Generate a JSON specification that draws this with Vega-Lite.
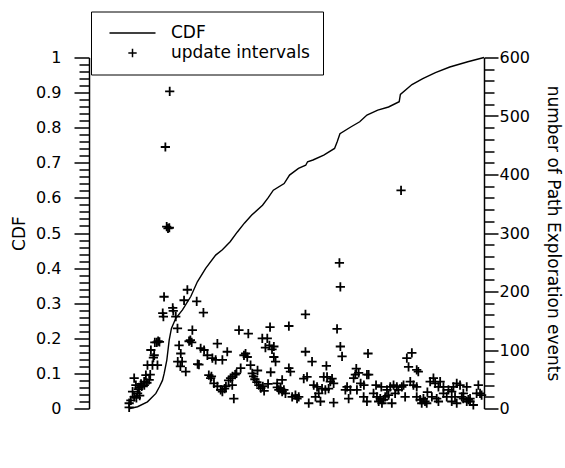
{
  "$schema": "https://vega.github.io/schema/vega-lite/v6.json",
  "width": 395,
  "height": 351,
  "autosize": "none",
  "padding": {"left": 89, "top": 57.5, "right": 81, "bottom": 59.5},
  "background": "white",
  "config": {
    "view": {"stroke": null},
    "font": "DejaVu Sans",
    "axis": {
      "domainColor": "black", "domainWidth": 1.5, "tickWidth": 1.5,
      "labelColor": "black", "titleColor": "black", "labelFont": "DejaVu Sans", "titleFont": "DejaVu Sans",
      "labelFontSize": 16, "titleFontSize": 17, "titleFontWeight": "normal", "gridOpacity": 0
    }
  },
  "datasets": {
    "cdf": [
      {"s": 31, "cdf": 0}, {"s": 36.9, "cdf": 0.005}, {"s": 44.4, "cdf": 0.019}, {"s": 50.8, "cdf": 0.043},
      {"s": 53.5, "cdf": 0.062}, {"s": 55.8, "cdf": 0.08}, {"s": 57.1, "cdf": 0.1}, {"s": 59.1, "cdf": 0.138},
      {"s": 60.9, "cdf": 0.195}, {"s": 62.6, "cdf": 0.228}, {"s": 65.9, "cdf": 0.257}, {"s": 71, "cdf": 0.281},
      {"s": 77.3, "cdf": 0.319}, {"s": 82.3, "cdf": 0.361}, {"s": 88.6, "cdf": 0.399}, {"s": 96.2, "cdf": 0.437},
      {"s": 101.3, "cdf": 0.452}, {"s": 107.2, "cdf": 0.475}, {"s": 112.7, "cdf": 0.503}, {"s": 118, "cdf": 0.528},
      {"s": 123.6, "cdf": 0.551}, {"s": 131.8, "cdf": 0.579}, {"s": 136, "cdf": 0.6}, {"s": 140, "cdf": 0.622},
      {"s": 148.2, "cdf": 0.641}, {"s": 152.3, "cdf": 0.665}, {"s": 159.1, "cdf": 0.684}, {"s": 164.6, "cdf": 0.693},
      {"s": 166, "cdf": 0.703}, {"s": 170.1, "cdf": 0.708}, {"s": 178.3, "cdf": 0.722}, {"s": 186.5, "cdf": 0.741},
      {"s": 188.5, "cdf": 0.76}, {"s": 190.6, "cdf": 0.783}, {"s": 198.8, "cdf": 0.802}, {"s": 205.6, "cdf": 0.817},
      {"s": 211.1, "cdf": 0.836}, {"s": 219.3, "cdf": 0.85}, {"s": 227.5, "cdf": 0.859}, {"s": 235.6, "cdf": 0.874},
      {"s": 236.5, "cdf": 0.895}, {"s": 245.3, "cdf": 0.923}, {"s": 253.5, "cdf": 0.94}, {"s": 263.1, "cdf": 0.957},
      {"s": 274, "cdf": 0.973}, {"s": 287.7, "cdf": 0.988}, {"s": 300, "cdf": 1.0}
    ],
    "pts": [
      {"s": 30.5, "n": 2}, {"s": 30.5, "n": 9}, {"s": 31.8, "n": 14}, {"s": 34.3, "n": 20}, {"s": 33.1, "n": 29},
      {"s": 36.9, "n": 26}, {"s": 35.6, "n": 40}, {"s": 38, "n": 36}, {"s": 39.5, "n": 42}, {"s": 37.5, "n": 33},
      {"s": 34.3, "n": 52}, {"s": 41.9, "n": 46}, {"s": 43.2, "n": 57}, {"s": 45.7, "n": 49}, {"s": 44, "n": 44},
      {"s": 42, "n": 40}, {"s": 44.4, "n": 74}, {"s": 48.2, "n": 74}, {"s": 52, "n": 74}, {"s": 48.9, "n": 87},
      {"s": 49.5, "n": 91}, {"s": 47, "n": 100}, {"s": 50, "n": 113}, {"s": 51.5, "n": 113}, {"s": 52.5, "n": 115},
      {"s": 53.5, "n": 114}, {"s": 40, "n": 38}, {"s": 46.5, "n": 58}, {"s": 36, "n": 18}, {"s": 38.5, "n": 22},
      {"s": 57, "n": 191}, {"s": 56, "n": 163}, {"s": 56.5, "n": 157}, {"s": 58, "n": 447}, {"s": 61.3, "n": 542},
      {"s": 59, "n": 311}, {"s": 60, "n": 308}, {"s": 61, "n": 309}, {"s": 63.6, "n": 172}, {"s": 64, "n": 167},
      {"s": 65.9, "n": 157}, {"s": 67.2, "n": 137}, {"s": 72.2, "n": 185}, {"s": 74.7, "n": 203}, {"s": 81.8, "n": 183},
      {"s": 86.9, "n": 164}, {"s": 78.5, "n": 134}, {"s": 68.4, "n": 108}, {"s": 69.7, "n": 94}, {"s": 67.4, "n": 80},
      {"s": 70.7, "n": 80}, {"s": 69.4, "n": 72}, {"s": 73.5, "n": 63}, {"s": 76, "n": 115}, {"s": 77, "n": 117},
      {"s": 78, "n": 113}, {"s": 82.5, "n": 76}, {"s": 84.8, "n": 103}, {"s": 87.4, "n": 100}, {"s": 89.9, "n": 91},
      {"s": 83.5, "n": 75}, {"s": 93.7, "n": 86}, {"s": 96.2, "n": 83}, {"s": 97.5, "n": 111}, {"s": 101.3, "n": 83},
      {"s": 105, "n": 97}, {"s": 91, "n": 57}, {"s": 92.4, "n": 52}, {"s": 94.9, "n": 43}, {"s": 97.5, "n": 38},
      {"s": 100, "n": 32}, {"s": 101.3, "n": 29}, {"s": 103, "n": 34}, {"s": 104, "n": 38}, {"s": 110, "n": 17},
      {"s": 108.8, "n": 40}, {"s": 106, "n": 48}, {"s": 107.5, "n": 52}, {"s": 109, "n": 55}, {"s": 111, "n": 58},
      {"s": 112, "n": 60}, {"s": 93, "n": 55}, {"s": 113.9, "n": 134}, {"s": 121, "n": 128}, {"s": 115.2, "n": 69},
      {"s": 117.7, "n": 91}, {"s": 118.9, "n": 94}, {"s": 120.2, "n": 88}, {"s": 122.7, "n": 74}, {"s": 125, "n": 55},
      {"s": 126, "n": 50}, {"s": 127.5, "n": 45}, {"s": 129, "n": 40}, {"s": 130.5, "n": 35}, {"s": 132, "n": 38},
      {"s": 133, "n": 30}, {"s": 131.6, "n": 120}, {"s": 135.4, "n": 120}, {"s": 137.5, "n": 139}, {"s": 134, "n": 104},
      {"s": 137, "n": 108}, {"s": 139, "n": 101}, {"s": 140.4, "n": 88}, {"s": 141.7, "n": 80}, {"s": 143, "n": 36},
      {"s": 144.2, "n": 32}, {"s": 138, "n": 62}, {"s": 128, "n": 65}, {"s": 124, "n": 60}, {"s": 136, "n": 42},
      {"s": 140.4, "n": 106}, {"s": 151.8, "n": 141}, {"s": 151.8, "n": 69}, {"s": 153, "n": 63}, {"s": 142.9, "n": 43},
      {"s": 146.7, "n": 49}, {"s": 145.5, "n": 34}, {"s": 148, "n": 32}, {"s": 149.2, "n": 26}, {"s": 146.7, "n": 29},
      {"s": 154.3, "n": 20}, {"s": 158, "n": 17}, {"s": 156.8, "n": 23}, {"s": 159.3, "n": 20}, {"s": 164.4, "n": 161},
      {"s": 164.4, "n": 97}, {"s": 169.4, "n": 80}, {"s": 163.1, "n": 51}, {"s": 165.6, "n": 54}, {"s": 166.9, "n": 9},
      {"s": 170.7, "n": 40}, {"s": 173.2, "n": 37}, {"s": 174.5, "n": 26}, {"s": 172, "n": 20}, {"s": 175.8, "n": 12},
      {"s": 177, "n": 34}, {"s": 179.5, "n": 32}, {"s": 182, "n": 34}, {"s": 180.3, "n": 73}, {"s": 178.3, "n": 54},
      {"s": 180.8, "n": 54}, {"s": 184.6, "n": 51}, {"s": 183.3, "n": 46}, {"s": 185.8, "n": 43}, {"s": 185.8, "n": 10},
      {"s": 190.2, "n": 249}, {"s": 190.9, "n": 208}, {"s": 188.4, "n": 136}, {"s": 190.9, "n": 106}, {"s": 192.2, "n": 89},
      {"s": 194.7, "n": 32}, {"s": 196, "n": 37}, {"s": 197.2, "n": 17}, {"s": 198.5, "n": 32}, {"s": 203, "n": 68},
      {"s": 204.8, "n": 61}, {"s": 201, "n": 52}, {"s": 202.3, "n": 58}, {"s": 211.9, "n": 94}, {"s": 211.1, "n": 58},
      {"s": 212.4, "n": 58}, {"s": 206.3, "n": 43}, {"s": 208.8, "n": 40}, {"s": 203.5, "n": 32}, {"s": 208.6, "n": 20},
      {"s": 211.1, "n": 12}, {"s": 216.1, "n": 26}, {"s": 218.7, "n": 20}, {"s": 221.2, "n": 17}, {"s": 220, "n": 12},
      {"s": 222.5, "n": 9}, {"s": 223.7, "n": 15}, {"s": 225, "n": 20}, {"s": 227.5, "n": 23}, {"s": 226.3, "n": 32},
      {"s": 228.8, "n": 37}, {"s": 231.3, "n": 40}, {"s": 232.5, "n": 26}, {"s": 230, "n": 9}, {"s": 233.8, "n": 37},
      {"s": 235, "n": 32}, {"s": 237.6, "n": 37}, {"s": 238.9, "n": 40}, {"s": 240.1, "n": 20}, {"s": 246.4, "n": 40},
      {"s": 248.9, "n": 37}, {"s": 248.9, "n": 20}, {"s": 251.5, "n": 15}, {"s": 252.7, "n": 9}, {"s": 255.2, "n": 12},
      {"s": 256.5, "n": 9}, {"s": 254, "n": 17}, {"s": 241.4, "n": 86}, {"s": 245.2, "n": 95}, {"s": 242.7, "n": 71},
      {"s": 248.9, "n": 66}, {"s": 250.1, "n": 63}, {"s": 237, "n": 373}, {"s": 261.6, "n": 52}, {"s": 259.1, "n": 46},
      {"s": 262.9, "n": 43}, {"s": 265.4, "n": 37}, {"s": 266.7, "n": 46}, {"s": 269.2, "n": 37}, {"s": 281.8, "n": 40},
      {"s": 286.9, "n": 37}, {"s": 295.7, "n": 40}, {"s": 294.4, "n": 26}, {"s": 297, "n": 26}, {"s": 298.2, "n": 23},
      {"s": 291.9, "n": 6}, {"s": 289.4, "n": 12}, {"s": 278, "n": 20}, {"s": 275.5, "n": 12}, {"s": 279.3, "n": 9},
      {"s": 283.1, "n": 20}, {"s": 284.3, "n": 17}, {"s": 286.9, "n": 12}, {"s": 288.1, "n": 15}, {"s": 289.4, "n": 17},
      {"s": 284.3, "n": 26}, {"s": 269.2, "n": 26}, {"s": 271.7, "n": 20}, {"s": 273, "n": 32}, {"s": 275.5, "n": 29},
      {"s": 276.8, "n": 37}, {"s": 279.3, "n": 43}, {"s": 264.1, "n": 17}, {"s": 265.4, "n": 12}, {"s": 260.4, "n": 20},
      {"s": 218, "n": 40}, {"s": 222, "n": 37}, {"s": 244, "n": 46}, {"s": 257, "n": 28}
    ]
  },
  "layer": [
    {
      "data": {"name": "cdf"},
      "mark": {"type": "line", "color": "black", "strokeWidth": 1.4},
      "encoding": {
        "x": {"field": "s", "type": "quantitative",
          "scale": {"domain": [0, 300], "nice": false, "zero": false},
          "axis": {"orient": "bottom", "labelOverlap": false, "labelFlush": false,
            "values": [0, 10, 20, 30, 40, 50, 60, 70, 80, 90, 100, 110, 120, 130, 140, 150, 160, 170, 180, 190, 200, 210, 220, 230, 240, 250, 260, 270, 280, 290, 300],
            "labelExpr": "datum.value % 50 === 0 ? datum.label : ''",
            "tickColor": "black",
            "tickSize": {"condition": {"test": "datum.value % 50 === 0", "value": 13}, "value": 8},
            "labelPadding": 4,
            "title": "interval times in seconds", "titlePadding": 8}},
        "y": {"field": "cdf", "type": "quantitative",
          "scale": {"domain": [0, 1], "nice": false, "zero": false},
          "axis": {"orient": "left", "labelOverlap": false, "labelFlush": false,
            "values": [0, 0.02, 0.04, 0.06, 0.08, 0.1, 0.12, 0.14, 0.16, 0.18, 0.2, 0.22, 0.24, 0.26, 0.28, 0.3, 0.32, 0.34, 0.36, 0.38, 0.4, 0.42, 0.44, 0.46, 0.48, 0.5, 0.52, 0.54, 0.56, 0.58, 0.6, 0.62, 0.64, 0.66, 0.68, 0.7, 0.72, 0.74, 0.76, 0.78, 0.8, 0.82, 0.84, 0.86, 0.88, 0.9, 0.92, 0.94, 0.96, 0.98, 1],
            "format": "~g",
            "labelExpr": "abs(datum.value * 10 - round(datum.value * 10)) < 0.001 ? datum.label : ''",
            "tickColor": {"condition": {"test": "abs(datum.value * 10 - round(datum.value * 10)) < 0.001", "value": "black"}, "value": "#000000"},
            "tickSize": {"condition": {"test": "abs(datum.value * 10 - round(datum.value * 10)) < 0.001", "value": 15}, "value": 10},
            "labelPadding": 13, "title": "CDF", "titlePadding": 7}}
      }
    },
    {
      "data": {"name": "pts"},
      "mark": {"type": "point", "filled": false, "color": "black", "strokeWidth": 1.8, "size": 85, "opacity": 1},
      "encoding": {
        "x": {"field": "s", "type": "quantitative",
          "scale": {"domain": [0, 300], "nice": false, "zero": false}, "axis": null},
        "y": {"field": "n", "type": "quantitative",
          "scale": {"domain": [0, 600], "nice": false, "zero": false},
          "axis": {"orient": "right", "labelOverlap": false, "labelFlush": false,
            "values": [0, 20, 40, 60, 80, 100, 120, 140, 160, 180, 200, 220, 240, 260, 280, 300, 320, 340, 360, 380, 400, 420, 440, 460, 480, 500, 520, 540, 560, 580, 600],
            "labelExpr": "datum.value % 100 === 0 ? datum.label : ''",
            "tickColor": {"condition": {"test": "datum.value % 100 === 0", "value": "black"}, "value": "#000000"},
            "tickSize": {"condition": {"test": "datum.value % 100 === 0", "value": 14}, "value": 10},
            "labelPadding": 1,
            "title": "number of Path Exploration events", "titlePadding": 14}},
        "shape": {"datum": "update intervals",
          "scale": {"domain": ["CDF", "update intervals"], "range": ["M-5.5,0H5.5", "M-1,0H1M0,-1V1"]},
          "legend": {"orient": "none", "legendX": 2, "legendY": -46, "title": null,
            "strokeColor": "black", "fillColor": "white", "padding": 13,
            "symbolOffset": 20, "labelOffset": 30, "labelFontSize": 17, "labelFont": "DejaVu Sans", "labelColor": "black",
            "rowPadding": 2, "symbolSize": 70, "symbolStrokeWidth": 1.5, "symbolStrokeColor": "black",
            "symbolFillColor": "transparent"}}
      }
    }
  ],
  "resolve": {
    "scale": {"y": "independent"},
    "axis": {"y": "independent"}
  }
}
